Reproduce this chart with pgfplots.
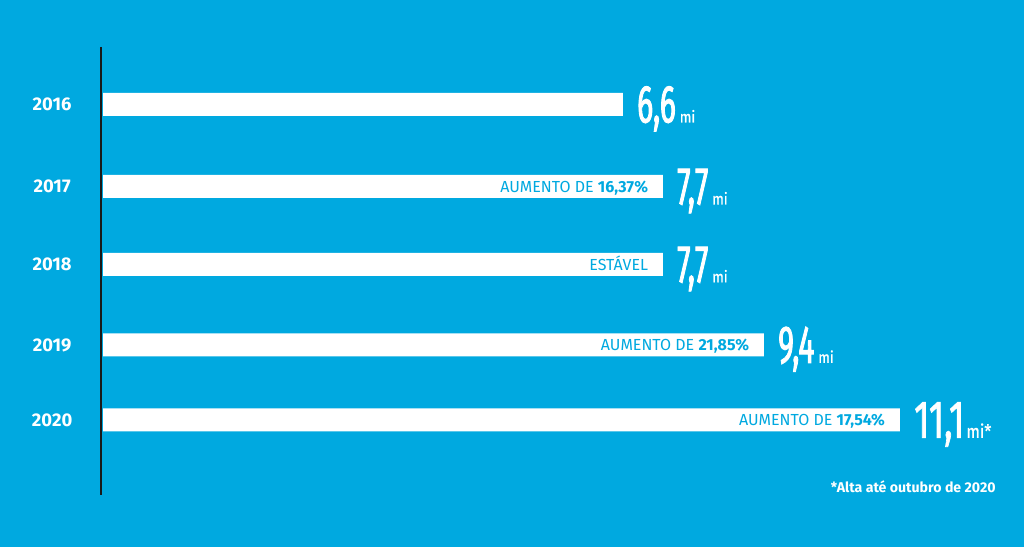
\documentclass[border=0pt]{standalone}
\usepackage{fontspec}
\setmainfont{Fira Sans}
\newfontfamily\condfont[FakeStretch=0.56,FakeBold=1.6]{Fira Sans}
\newfontfamily\condwide[FakeStretch=0.66,FakeBold=1.2]{Fira Sans}
\newfontfamily\mifont[FakeStretch=0.85,FakeBold=0.8]{Fira Sans}
\usepackage{pgfplots}
\pgfplotsset{compat=1.18}
\definecolor{bgblue}{RGB}{0,169,224}
\definecolor{axisdark}{RGB}{25,25,25}
\newcommand\numlab[3][12]{{\condfont\fontsize{40}{40}\selectfont #2}\hspace{3pt}{\mifont\fontsize{#1}{#1}\selectfont #3}}
\newcommand\numlabw[2]{{\condwide\fontsize{40}{40}\selectfont #1}\hspace{1.5pt}{\mifont\fontsize{14}{14}\selectfont #2}}
\begin{document}
\begin{tikzpicture}
\fill[bgblue] (0,0) rectangle (768pt,410.25pt);
\begin{axis}[
  at={(0,0)}, anchor=south west,
  scale only axis, width=768pt, height=410.25pt,
  xmin=-103, xmax=921, ymin=0, ymax=547, y dir=reverse,
  axis line style={draw=none},
  xtick=\empty,
  ytick={104.5,186.5,264.5,345,420},
  yticklabels={2016,2017,2018,2019,2020},
  major tick length=0pt,
  yticklabel style={anchor=center, xshift=39pt, font=\bfseries\fontsize{13.8}{14}\selectfont, text=white},
  xbar, bar width=23, bar shift=0pt,
  clip=false,
]
\addplot[fill=white, draw=none, point meta=explicit symbolic, nodes near coords,
  nodes near coords style={anchor=base west, inner sep=0pt, xshift=10.5pt, yshift=-13.5pt, text=white}]
  coordinates {
  (520,104.5) [{\numlab{6,6}{mi}}]
  (560,186.5) [{\numlab{7,7}{mi}}]
  (560,264.5) [{\numlab{7,7}{mi}}]
  (661,345)   [{\numlab{9,4}{mi}}]
  (797,420)   [{\numlabw{11,1}{mi*}}]
};
\addplot[fill=none, draw=none, point meta=explicit symbolic, nodes near coords,
  nodes near coords style={anchor=base east, inner sep=0pt, xshift=-11pt, yshift=-4.3pt, text=bgblue, font=\fontsize{12}{13}\selectfont}]
  coordinates {
  (560,186.5) [{AUMENTO DE \textbf{16,37\%}}]
  (560,264.5) [{ESTÁVEL}]
  (661,345)   [{AUMENTO DE \textbf{21,85\%}}]
  (797,420)   [{AUMENTO DE \textbf{17,54\%}}]
};
\draw[axisdark, line width=1.5pt] (axis cs:-2,47) -- (axis cs:-2,495);
\node[anchor=base east, text=white, font=\bfseries\fontsize{10.6}{11}\selectfont, inner sep=0pt] at (axis cs:893,493) {*Alta até outubro de 2020};
\end{axis}
\useasboundingbox (0,0) rectangle (768pt,410.25pt);
\end{tikzpicture}
\end{document}
